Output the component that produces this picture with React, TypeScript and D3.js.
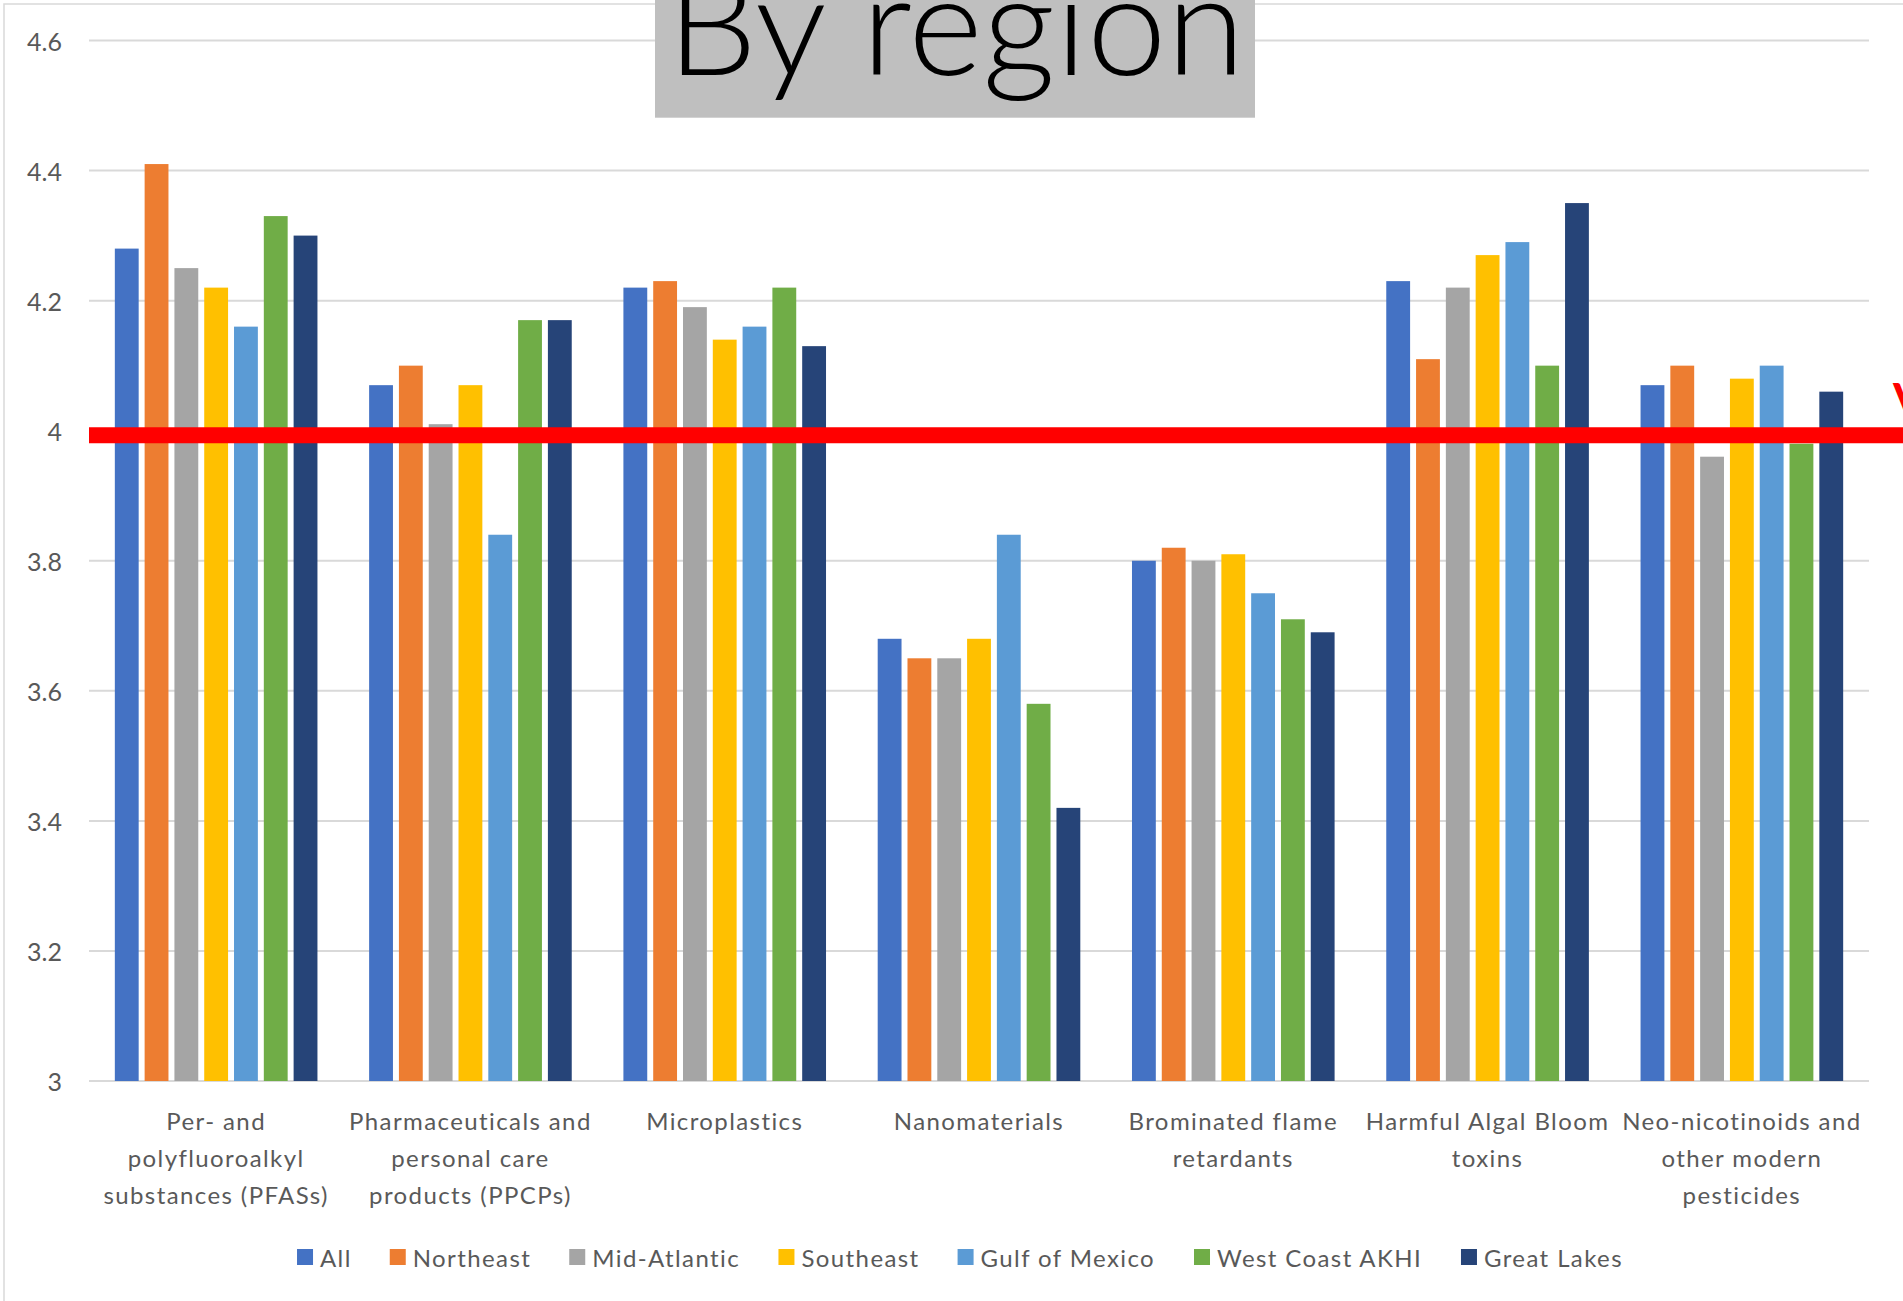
import React, { useMemo } from "react";
import * as d3 from "d3";

// Categories of contaminants (multi-line axis labels)
const categories: string[][] = [
  ["Per- and", "polyfluoroalkyl", "substances (PFASs)"],
  ["Pharmaceuticals and", "personal care", "products (PPCPs)"],
  ["Microplastics"],
  ["Nanomaterials"],
  ["Brominated flame", "retardants"],
  ["Harmful Algal Bloom", "toxins"],
  ["Neo-nicotinoids and", "other modern", "pesticides"],
];

const seriesNames = [
  "All",
  "Northeast",
  "Mid-Atlantic",
  "Southeast",
  "Gulf of Mexico",
  "West Coast AKHI",
  "Great Lakes",
];

const seriesColors = ["#4472C4", "#ED7D31", "#A5A5A5", "#FFC000", "#5B9BD5", "#70AD47", "#264478"];

// Mean scores per category, one array per region
const allValues = [4.28, 4.07, 4.22, 3.68, 3.8, 4.23, 4.07];
const northeastValues = [4.41, 4.1, 4.23, 3.65, 3.82, 4.11, 4.1];
const midAtlanticValues = [4.25, 4.01, 4.19, 3.65, 3.8, 4.22, 3.96];
const southeastValues = [4.22, 4.07, 4.14, 3.68, 3.81, 4.27, 4.08];
const gulfValues = [4.16, 3.84, 4.16, 3.84, 3.75, 4.29, 4.1];
const westCoastValues = [4.33, 4.17, 4.22, 3.58, 3.71, 4.1, 3.98];
const greatLakesValues = [4.3, 4.17, 4.13, 3.42, 3.69, 4.35, 4.06];

const seriesValues = [
  allValues,
  northeastValues,
  midAtlanticValues,
  southeastValues,
  gulfValues,
  westCoastValues,
  greatLakesValues,
];

const yTicks = [3, 3.2, 3.4, 3.6, 3.8, 4, 4.2, 4.4, 4.6];
const yTickLabels = ["3", "3.2", "3.4", "3.6", "3.8", "4", "4.2", "4.4", "4.6"];

// Reference threshold drawn as a red line
const threshold = 3.993;

const titleText = "By region";

const FONT = "Lato, 'Open Sans', sans-serif";
const TEXT_GRAY = "#595959";
const GRID_GRAY = "#D9D9D9";
const LABEL_SPACING = 1.4;

export default function App() {
  const width = 1903;
  const height = 1301;
  const plotLeft = 89;
  const plotRight = 1869;

  const y = d3.scaleLinear().domain([3, 4.6]).range([1081, 40.5]);
  const x0 = d3
    .scaleBand<number>()
    .domain(categories.map((_, i) => i))
    .range([plotLeft, plotRight])
    .padding(0);
  const x1 = d3
    .scaleBand<number>()
    .domain(seriesNames.map((_, i) => i))
    .range([0, x0.bandwidth()])
    .paddingInner(0.2)
    .paddingOuter(0.867);

  // Legend layout from measured text widths
  const legendFontSize = 24;
  const legendItems = useMemo(() => {
    const canvas = document.createElement("canvas");
    const ctx = canvas.getContext("2d")!;
    ctx.font = `${legendFontSize}px Lato`;
    const swatch = 16;
    const swatchGap = 7;
    const itemGap = 38;
    const widths = seriesNames.map((n) => ctx.measureText(n).width + n.length * LABEL_SPACING);
    const total =
      widths.reduce((a, w) => a + swatch + swatchGap + w, 0) + itemGap * (seriesNames.length - 1);
    let cx = 960 - total / 2;
    return seriesNames.map((name, i) => {
      const item = { name, color: seriesColors[i], x: cx, textX: cx + swatch + swatchGap };
      cx += swatch + swatchGap + widths[i] + itemGap;
      return item;
    });
  }, []);

  const legendY = 1257;

  return (
    <svg
      width={width}
      height={height}
      style={{ position: "absolute", left: 0, top: 0, display: "block", background: "#fff" }}
      fontFamily={FONT}
    >
      {/* chart frame */}
      <rect x={4} y={4} width={2100} height={1500} fill="#fff" stroke={GRID_GRAY} strokeWidth={1.5} />

      {/* gridlines */}
      {yTicks.map((t) => (
        <line
          key={t}
          x1={plotLeft}
          x2={plotRight}
          y1={y(t)}
          y2={y(t)}
          stroke={GRID_GRAY}
          strokeWidth={2}
        />
      ))}

      {/* y tick labels */}
      {yTicks.map((t, i) => (
        <text
          key={t}
          x={62}
          y={y(t)}
          textAnchor="end"
          dominantBaseline="central"
          fontSize={25}
          fill={TEXT_GRAY}
        >
          {yTickLabels[i]}
        </text>
      ))}

      {/* bars */}
      {categories.map((_, ci) => (
        <g key={ci} transform={`translate(${x0(ci)},0)`}>
          {seriesValues.map((vals, si) => (
            <rect
              key={si}
              x={x1(si)}
              y={y(vals[ci])}
              width={x1.bandwidth()}
              height={y(3) - y(vals[ci])}
              fill={seriesColors[si]}
            />
          ))}
        </g>
      ))}

      {/* category labels */}
      {categories.map((lines, ci) => (
        <text
          key={ci}
          x={(x0(ci) as number) + x0.bandwidth() / 2}
          textAnchor="middle"
          fontSize={24}
          letterSpacing={LABEL_SPACING}
          fill={TEXT_GRAY}
        >
          {lines.map((ln, li) => (
            <tspan key={li} x={(x0(ci) as number) + x0.bandwidth() / 2} y={1120 + li * 37} dominantBaseline="central">
              {ln}
            </tspan>
          ))}
        </text>
      ))}

      {/* threshold line */}
      <line x1={plotLeft} x2={width} y1={y(threshold)} y2={y(threshold)} stroke="#FF0000" strokeWidth={16} />
      <text x={1893} y={418} fontSize={48} fontWeight={700} fill="#FF0000">
        V
      </text>

      {/* title */}
      <rect x={655} y={-5} width={600} height={122.7} fill="#BFBFBF" />
      <text
        x={667}
        y={75}
        fontSize={140}
        fontWeight={300}
        fill="#000"
        textLength={578}
        lengthAdjust="spacingAndGlyphs"
      >
        {titleText}
      </text>

      {/* legend */}
      {legendItems.map((it) => (
        <g key={it.name}>
          <rect x={it.x} y={legendY - 8} width={16} height={16} fill={it.color} />
          <text
            x={it.textX}
            y={legendY}
            dominantBaseline="central"
            fontSize={legendFontSize}
            letterSpacing={LABEL_SPACING}
            fill={TEXT_GRAY}
          >
            {it.name}
          </text>
        </g>
      ))}
    </svg>
  );
}
